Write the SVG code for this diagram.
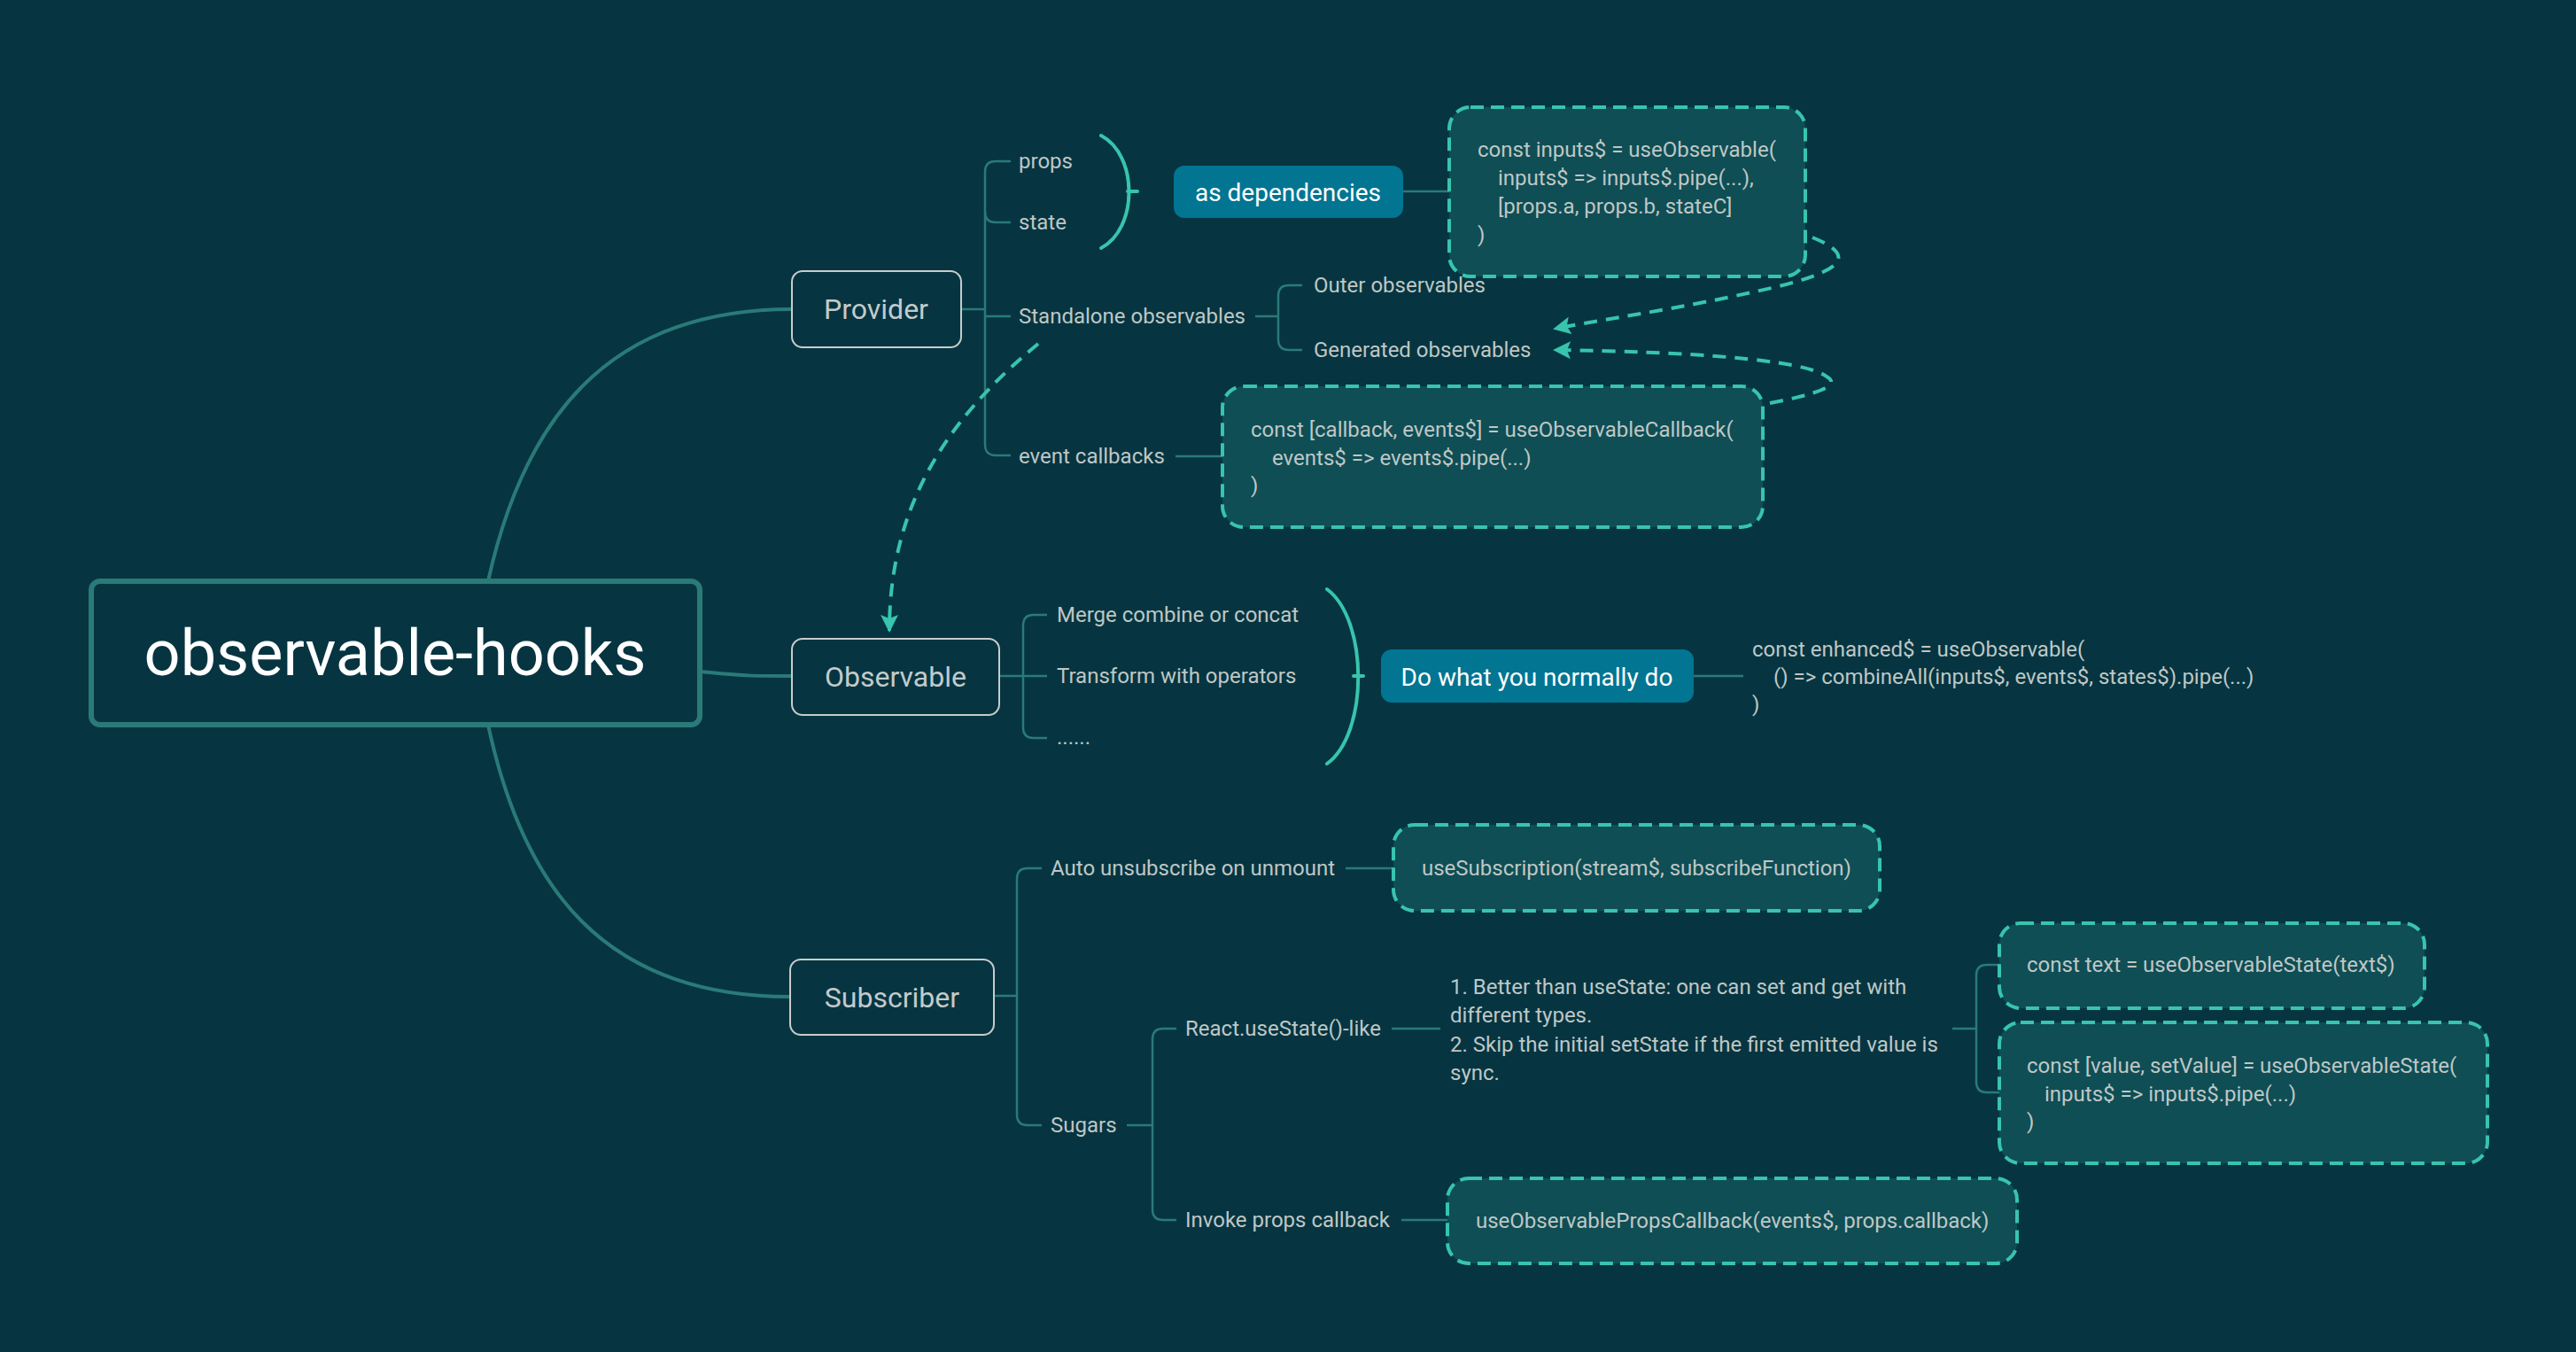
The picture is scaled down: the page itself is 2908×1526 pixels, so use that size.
<svg xmlns="http://www.w3.org/2000/svg" width="2908" height="1526" viewBox="0 0 2908 1526">
<defs>
<style>
text{font-family:Roboto,"Liberation Sans",sans-serif;dominant-baseline:central}
.lbl{font-size:24px;fill:#bfc7c5}
.code{font-size:24px;fill:#bfc7c5}
.main{font-size:32px;fill:#c3cbcb}
.mainbox{fill:#063541;stroke:#c8cccc;stroke-width:2}
.tree{fill:none;stroke:#2a7a78;stroke-width:2.5}
.trunk{fill:none;stroke:#2a7a78;stroke-width:4}
.dbox{fill:#0f4e55;stroke:#38c4ad;stroke-width:4;stroke-dasharray:15 8}
.tbox{fill:#017592}
.ttxt{font-size:28px;fill:#ffffff}
.brace{fill:none;stroke:#38c4ad;stroke-width:4;stroke-linecap:round}
.darrow{fill:none;stroke:#38c4ad;stroke-width:4;stroke-dasharray:15 10}
</style>
<marker id="ah" viewBox="0 0 10 10" refX="9" refY="5" markerWidth="5" markerHeight="5" orient="auto" markerUnits="strokeWidth">
<path d="M0,0 L10,5 L0,10 L2,5 Z" fill="#38c4ad"/>
</marker>
</defs>
<rect width="2908" height="1526" fill="#063541"/>

<g id="connectors">
<path class="trunk" d="M551,656 C590,480 680,349 894,349"/>
<path class="trunk" d="M551,818 C590,1000 680,1125 892,1125"/>
<path class="trunk" d="M790,758 C840,763 850,763 894,763"/>
<path class="tree" d="M1085,349 H1112"/>
<path class="tree" d="M1141,182 H1124 Q1112,182 1112,194 V502 Q1112,514 1124,514 H1141"/>
<path class="tree" d="M1112,239 Q1112,251 1124,251 H1141"/>
<path class="tree" d="M1112,357 H1141"/>
<path class="tree" d="M1417,357 H1443"/>
<path class="tree" d="M1470,322 H1455 Q1443,322 1443,334 V383 Q1443,395 1455,395 H1470"/>
<path class="tree" d="M1584,216 H1659"/>
<path class="tree" d="M1327,515 H1402"/>
<path class="tree" d="M1128,763 H1182"/>
<path class="tree" d="M1182,694 H1167 Q1155,694 1155,706 V821 Q1155,833 1167,833 H1182"/>
<path class="tree" d="M1912,763 H1968"/>
<path class="tree" d="M1122,1124 H1148"/>
<path class="tree" d="M1176,980 H1160 Q1148,980 1148,992 V1258 Q1148,1270 1160,1270 H1176"/>
<path class="tree" d="M1519,980 H1594"/>
<path class="tree" d="M1272,1270 H1301"/>
<path class="tree" d="M1328,1161 H1313 Q1301,1161 1301,1173 V1365 Q1301,1377 1313,1377 H1328"/>
<path class="tree" d="M1571,1161 H1626"/>
<path class="tree" d="M2204,1161 H2231"/>
<path class="tree" d="M2280,1089 H2243 Q2231,1089 2231,1101 V1221 Q2231,1233 2243,1233 H2280"/>
<path class="tree" d="M1582,1377 H1640"/>
<path class="brace" d="M1243,153 C1285,175 1285,258 1243,280 M1273,216 H1284"/>
<path class="brace" d="M1498,665 C1545,700 1545,828 1498,862 M1528,763 H1539"/>
<path class="darrow" marker-end="url(#ah)" d="M2046,268 C2095,288 2085,305 2000,325 C1900,348 1800,362 1755,371"/>
<path class="darrow" marker-end="url(#ah)" d="M1998,455 C2050,445 2080,435 2062,425 C2035,405 1900,397 1755,395"/>
<path class="darrow" marker-end="url(#ah)" d="M1172,388 C1060,480 1004,580 1004,712"/>
</g>

<g id="root">
<rect x="103" y="656" width="687" height="162" rx="10" fill="#063541" stroke="#2a7a78" stroke-width="6"/>
<text x="446" y="737" text-anchor="middle" font-size="72" fill="#ffffff">observable-hooks</text>
</g>

<g id="provider">
<rect class="mainbox" x="894" y="306" width="191" height="86" rx="12"/>
<text class="main" x="989" y="349" text-anchor="middle">Provider</text>
</g>
<g id="props"><text class="lbl" x="1150" y="182">props</text></g>
<g id="state"><text class="lbl" x="1150" y="251">state</text></g>
<g id="standalone"><text class="lbl" x="1150" y="357">Standalone observables</text></g>
<g id="outer"><text class="lbl" x="1483" y="322">Outer observables</text></g>
<g id="generated"><text class="lbl" x="1483" y="395">Generated observables</text></g>
<g id="eventcb"><text class="lbl" x="1150" y="515">event callbacks</text></g>
<g id="asdeps">
<rect class="tbox" x="1325" y="187" width="259" height="59" rx="12"/>
<text class="ttxt" x="1454" y="217" text-anchor="middle">as dependencies</text>
</g>
<g id="code-inputs">
<rect class="dbox" x="1636" y="121" width="402" height="191" rx="24"/>
<text class="code" x="1668" y="169">const inputs$ = useObservable(</text>
<text class="code" x="1691" y="201">inputs$ =&gt; inputs$.pipe(...),</text>
<text class="code" x="1691" y="233">[props.a, props.b, stateC]</text>
<text class="code" x="1668" y="265">)</text>
</g>
<g id="code-callback">
<rect class="dbox" x="1380" y="436" width="610" height="159" rx="24"/>
<text class="code" x="1412" y="485">const [callback, events$] = useObservableCallback(</text>
<text class="code" x="1436" y="517">events$ =&gt; events$.pipe(...)</text>
<text class="code" x="1412" y="548">)</text>
</g>

<g id="observable">
<rect class="mainbox" x="894" y="721" width="234" height="86" rx="12"/>
<text class="main" x="1011" y="764" text-anchor="middle">Observable</text>
</g>
<g id="merge"><text class="lbl" x="1193" y="694">Merge combine or concat</text></g>
<g id="transform"><text class="lbl" x="1193" y="763">Transform with operators</text></g>
<g id="etc"><text class="lbl" x="1193" y="832">......</text></g>
<g id="normally">
<rect class="tbox" x="1559" y="733" width="353" height="60" rx="12"/>
<text class="ttxt" x="1735" y="764" text-anchor="middle">Do what you normally do</text>
</g>
<g id="code-enhanced">
<text class="code" x="1978" y="733">const enhanced$ = useObservable(</text>
<text class="code" x="2002" y="764">() =&gt; combineAll(inputs$, events$, states$).pipe(...)</text>
<text class="code" x="1978" y="795">)</text>
</g>

<g id="subscriber">
<rect class="mainbox" x="892" y="1083" width="230" height="85" rx="12"/>
<text class="main" x="1007" y="1126" text-anchor="middle">Subscriber</text>
</g>
<g id="autounsub"><text class="lbl" x="1186" y="980">Auto unsubscribe on unmount</text></g>
<g id="code-sub">
<rect class="dbox" x="1573" y="931" width="549" height="97" rx="24"/>
<text class="code" x="1605" y="980">useSubscription(stream$, subscribeFunction)</text>
</g>
<g id="sugars"><text class="lbl" x="1186" y="1270">Sugars</text></g>
<g id="usestate"><text class="lbl" x="1338" y="1161">React.useState()-like</text></g>
<g id="notes">
<text class="lbl" x="1637" y="1114">1. Better than useState: one can set and get with</text>
<text class="lbl" x="1637" y="1146">different types.</text>
<text class="lbl" x="1637" y="1179">2. Skip the initial setState if the first emitted value is</text>
<text class="lbl" x="1637" y="1211">sync.</text>
</g>
<g id="code-text">
<rect class="dbox" x="2257" y="1042" width="480" height="96" rx="24"/>
<text class="code" x="2288" y="1089">const text = useObservableState(text$)</text>
</g>
<g id="code-value">
<rect class="dbox" x="2257" y="1154" width="551" height="159" rx="24"/>
<text class="code" x="2288" y="1203">const [value, setValue] = useObservableState(</text>
<text class="code" x="2308" y="1235">inputs$ =&gt; inputs$.pipe(...)</text>
<text class="code" x="2288" y="1266">)</text>
</g>
<g id="invoke"><text class="lbl" x="1338" y="1377">Invoke props callback</text></g>
<g id="code-props">
<rect class="dbox" x="1634" y="1330" width="643" height="96" rx="24"/>
<text class="code" x="1666" y="1378">useObservablePropsCallback(events$, props.callback)</text>
</g>
</svg>
